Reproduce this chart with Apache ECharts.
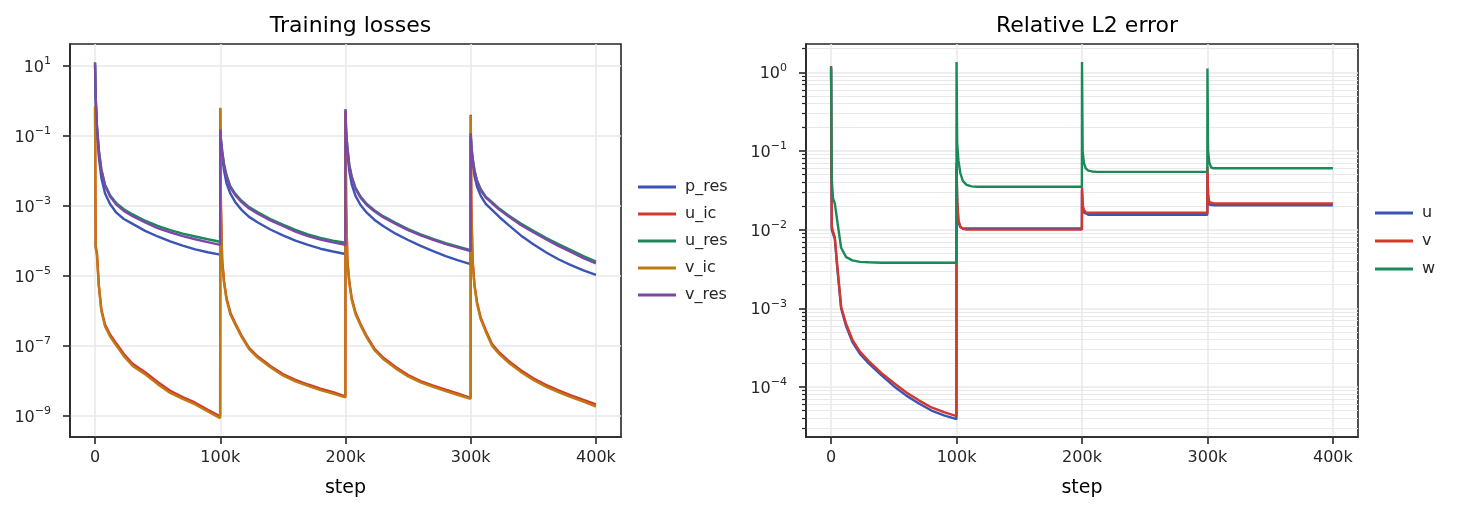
<!DOCTYPE html>
<html>
<head>
<meta charset="utf-8">
<script src="https://cdn.jsdelivr.net/npm/echarts@6/dist/echarts.min.js"></script>
<style>
  html, body { margin: 0; padding: 0; background: #fff; }
  #chart { width: 1457px; height: 512px; }
</style>
</head>
<body>
<div id="chart"></div>
<script>
// training step of every sample (4 phases of 100k steps)
const STEPS = [
  0, 500, 1500, 3000, 5000, 8000, 12000, 17000, 23000, 30000, 40000, 50000, 60000, 70000, 80000, 90000, 99900,
  100000, 100500, 101500, 103000, 105000, 108000, 112000, 117000, 123000, 130000, 140000, 150000, 160000, 170000, 180000, 190000, 199900,
  200000, 200500, 201500, 203000, 205000, 208000, 212000, 217000, 223000, 230000, 240000, 250000, 260000, 270000, 280000, 290000, 299900,
  300000, 300500, 301500, 303000, 305000, 308000, 312000, 317000, 323000, 330000, 340000, 350000, 360000, 370000, 380000, 390000, 400000,
]

// Training losses, log10 of the loss
const P_RES = [
  1.08, 0.0, -0.85, -1.6, -2.2, -2.65, -2.95, -3.2, -3.38, -3.52, -3.72, -3.88, -4.02, -4.14, -4.25, -4.33, -4.4,
  -0.85, -1.2, -1.6, -2.0, -2.36, -2.65, -2.9, -3.12, -3.32, -3.48, -3.68, -3.85, -4.0, -4.12, -4.23, -4.31, -4.38,
  -0.3, -1.0, -1.5, -2.0, -2.4, -2.72, -2.98, -3.2, -3.4, -3.58, -3.8, -3.98, -4.15, -4.3, -4.44, -4.56, -4.67,
  -1.0, -1.4, -1.8, -2.15, -2.45, -2.72, -2.95, -3.12, -3.33, -3.55, -3.85, -4.1, -4.33, -4.53, -4.7, -4.85, -4.98,
]
const U_IC = [
  -0.2, -4.15, -4.35, -5.25, -5.95, -6.4, -6.68, -6.94, -7.24, -7.52, -7.76, -8.04, -8.29, -8.47, -8.63, -8.83, -9.02,
  -0.22, -3.0, -4.55, -5.15, -5.64, -6.05, -6.36, -6.71, -7.06, -7.31, -7.58, -7.81, -7.98, -8.11, -8.23, -8.33, -8.45,
  -0.3, -3.0, -4.55, -5.15, -5.65, -6.05, -6.38, -6.73, -7.08, -7.34, -7.61, -7.84, -8.01, -8.14, -8.26, -8.37, -8.49,
  -0.4, -3.0, -4.55, -5.25, -5.75, -6.2, -6.55, -6.95, -7.2, -7.43, -7.7, -7.93, -8.12, -8.28, -8.42, -8.55, -8.68,
]
const U_RES = [
  1.0, 0.1, -0.7, -1.4, -1.95, -2.4, -2.7, -2.93, -3.1, -3.25, -3.43, -3.58, -3.7, -3.8, -3.88, -3.96, -4.03,
  -0.9, -1.1, -1.43, -1.82, -2.13, -2.44, -2.66, -2.86, -3.04, -3.19, -3.38, -3.54, -3.69, -3.82, -3.92, -4.0, -4.06,
  -0.3, -0.9, -1.33, -1.82, -2.17, -2.49, -2.74, -2.95, -3.13, -3.3, -3.49, -3.67, -3.82, -3.95, -4.07, -4.17, -4.27,
  -1.0, -1.3, -1.64, -1.98, -2.28, -2.53, -2.74, -2.9, -3.09, -3.27, -3.51, -3.72, -3.92, -4.1, -4.27, -4.44, -4.6,
]
const V_IC = [
  -0.15, -4.2, -4.4, -5.3, -6.0, -6.45, -6.74, -7.0, -7.3, -7.58, -7.82, -8.1, -8.35, -8.52, -8.68, -8.88, -9.07,
  -0.2, -3.0, -4.6, -5.2, -5.69, -6.1, -6.4, -6.75, -7.1, -7.35, -7.62, -7.85, -8.02, -8.15, -8.27, -8.37, -8.48,
  -0.35, -3.0, -4.6, -5.2, -5.7, -6.1, -6.42, -6.77, -7.12, -7.38, -7.65, -7.88, -8.05, -8.18, -8.3, -8.41, -8.52,
  -0.44, -3.0, -4.6, -5.3, -5.8, -6.25, -6.6, -7.0, -7.25, -7.48, -7.75, -7.98, -8.17, -8.33, -8.47, -8.6, -8.74,
]
const V_RES = [
  1.1, 0.1, -0.72, -1.43, -1.98, -2.43, -2.74, -2.97, -3.15, -3.3, -3.48, -3.64, -3.76, -3.87, -3.96, -4.04, -4.12,
  -0.82, -1.1, -1.45, -1.85, -2.17, -2.48, -2.7, -2.9, -3.08, -3.23, -3.42, -3.58, -3.74, -3.87, -3.97, -4.05, -4.12,
  -0.24, -0.9, -1.35, -1.85, -2.2, -2.52, -2.77, -2.98, -3.16, -3.33, -3.52, -3.7, -3.85, -3.98, -4.1, -4.2, -4.3,
  -0.93, -1.3, -1.65, -2.0, -2.3, -2.56, -2.77, -2.93, -3.12, -3.3, -3.55, -3.76, -3.96, -4.15, -4.32, -4.5, -4.65,
]

// Relative L2 error, log10
const ERR_U = [
  0.05, -2.0, -2.05, -2.12, -2.5, -3.0, -3.23, -3.43, -3.58, -3.7, -3.85, -3.99, -4.11, -4.21, -4.3, -4.36, -4.41,
  -1.2, -1.65, -1.9, -1.97, -1.985, -1.985, -1.985, -1.985, -1.985, -1.985, -1.985, -1.985, -1.985, -1.985, -1.985, -1.985, -1.985,
  -1.5, -1.72, -1.78, -1.8, -1.81, -1.81, -1.81, -1.81, -1.81, -1.81, -1.81, -1.81, -1.81, -1.81, -1.81, -1.81, -1.81,
  -1.25, -1.6, -1.68, -1.69, -1.69, -1.69, -1.69, -1.69, -1.69, -1.69, -1.69, -1.69, -1.69, -1.69, -1.69, -1.69, -1.69,
]
const ERR_V = [
  0.08, -1.95, -2.02, -2.1, -2.47, -2.98, -3.2, -3.4, -3.55, -3.67, -3.82, -3.95, -4.07, -4.17, -4.26, -4.32, -4.37,
  -1.15, -1.6, -1.88, -1.96, -1.99, -2.0, -2.0, -2.0, -2.0, -2.0, -2.0, -2.0, -2.0, -2.0, -2.0, -2.0, -2.0,
  -1.46, -1.68, -1.75, -1.78, -1.786, -1.786, -1.786, -1.786, -1.786, -1.786, -1.786, -1.786, -1.786, -1.786, -1.786, -1.786, -1.786,
  -1.2, -1.55, -1.65, -1.665, -1.667, -1.667, -1.667, -1.667, -1.667, -1.667, -1.667, -1.667, -1.667, -1.667, -1.667, -1.667, -1.667,
]
const ERR_W = [
  0.07, -1.35, -1.6, -1.67, -1.9, -2.23, -2.35, -2.39, -2.41, -2.415, -2.42, -2.42, -2.42, -2.42, -2.42, -2.42, -2.42,
  0.13, -0.9, -1.12, -1.28, -1.38, -1.43, -1.45, -1.455, -1.455, -1.455, -1.455, -1.455, -1.455, -1.455, -1.455, -1.455, -1.455,
  0.13, -1.0, -1.15, -1.22, -1.25, -1.26, -1.265, -1.265, -1.265, -1.265, -1.265, -1.265, -1.265, -1.265, -1.265, -1.265, -1.265,
  0.05, -1.0, -1.15, -1.21, -1.22, -1.22, -1.22, -1.22, -1.22, -1.22, -1.22, -1.22, -1.22, -1.22, -1.22, -1.22, -1.22,
]

const X_TICKS = [0, 100000, 200000, 300000, 400000]
const LOSS_TICKS = [-9, -7, -5, -3, -1, 1]
const ERR_TICKS = [-4, -3, -2, -1, 0]

const COLORS = { blue: '#3a55b5', red: '#d4382d', green: '#1b8a5a', orange: '#c07a14', purple: '#7d47a8' }
const FONT = 'DejaVu Sans'
const INK = '#262626'
const GRID_COLOR = '#e8e8e8'

// minor decade lines for the error panel (2..9 x 10^n)
const errMinor = []
for (let d = -5; d <= 0; d++) {
  for (let k = 2; k <= 9; k++) {
    const v = d + Math.log10(k)
    if (v > -4.636 && v < 0.36) errMinor.push(v)
  }
}

const pow10Label = (n) => '{b|10}{e|' + (n < 0 ? '\u2212' + (-n) : n) + '}'
const stepLabel = (v) => (v === 0 ? '0' : v / 1000 + 'k')

const pairs = (arr) => STEPS.map((s, i) => [s, arr[i]])

function xAxis(gridIndex) {
  return {
    type: 'value', gridIndex, min: -20000, max: 420000,
    name: 'step', nameLocation: 'middle', nameGap: 42,
    nameTextStyle: { fontFamily: FONT, fontSize: 19, color: '#000' },
    axisLine: { show: true, onZero: false, lineStyle: { color: INK, width: 1.6 } },
    axisTick: { show: true, length: 7, customValues: X_TICKS, lineStyle: { color: INK, width: 1.6 } },
    axisLabel: { customValues: X_TICKS, formatter: stepLabel, margin: 13, fontFamily: FONT, fontSize: 16, color: INK },
    splitLine: { show: true, lineStyle: { color: GRID_COLOR, width: 1.5 } },
  }
}

function logYAxis(gridIndex, min, max, ticks) {
  return {
    type: 'value', gridIndex, min, max, position: 'left',
    axisLine: { show: true, onZero: false, lineStyle: { color: INK, width: 1.6 } },
    axisTick: { show: true, length: 7, customValues: ticks, lineStyle: { color: INK, width: 1.6 } },
    axisLabel: {
      customValues: ticks, formatter: pow10Label, margin: 19,
      rich: {
        b: { fontFamily: FONT, fontSize: 16, color: INK, lineHeight: 20, verticalAlign: 'bottom' },
        e: { fontFamily: FONT, fontSize: 11, color: INK, lineHeight: 11, verticalAlign: 'top' },
      },
    },
    splitLine: { show: true, lineStyle: { color: GRID_COLOR, width: 1.5 } },
  }
}

function line(name, data, color, xi, yi) {
  return {
    name, type: 'line', data: pairs(data), xAxisIndex: xi, yAxisIndex: yi,
    showSymbol: false, symbol: 'none', color,
    lineStyle: { color, width: 2.4 },
  }
}

const chart = echarts.init(document.getElementById('chart'))
chart.setOption({
  animation: false,
  backgroundColor: '#fff',
  title: [
    { text: 'Training losses', left: 345.5, top: 10, textAlign: 'center',
      textStyle: { fontFamily: FONT, fontSize: 22, fontWeight: 'normal', color: '#000' } },
    { text: 'Relative L2 error', left: 1082, top: 10, textAlign: 'center',
      textStyle: { fontFamily: FONT, fontSize: 22, fontWeight: 'normal', color: '#000' } },
  ],
  legend: [
    {
      data: ['p_res', 'u_ic', 'u_res', 'v_ic', 'v_res'],
      orient: 'vertical', left: 633, top: 174, icon: 'rect',
      itemWidth: 38, itemHeight: 3, itemGap: 11,
      textStyle: { fontFamily: FONT, fontSize: 16, lineHeight: 16, color: INK, padding: [0, 0, 0, 4] },
    },
    {
      data: ['u', 'v', 'w'],
      orient: 'vertical', left: 1370, top: 200, icon: 'rect',
      itemWidth: 38, itemHeight: 3, itemGap: 12,
      textStyle: { fontFamily: FONT, fontSize: 16, lineHeight: 16, color: INK, padding: [0, 0, 0, 4] },
    },
  ],
  grid: [
    { left: 70, top: 44, width: 551, height: 393, show: true, borderColor: INK, borderWidth: 1.6 },
    { left: 806, top: 44, width: 552, height: 393, show: true, borderColor: INK, borderWidth: 1.6 },
  ],
  xAxis: [xAxis(0), xAxis(1)],
  yAxis: [
    logYAxis(0, -9.61, 1.62, LOSS_TICKS),
    logYAxis(1, -4.636, 0.36, ERR_TICKS),
    {
      // minor ticks / grid of the error panel
      type: 'value', gridIndex: 1, min: -4.636, max: 0.36, position: 'left',
      axisLine: { show: false, onZero: false },
      axisTick: { show: true, length: 4, customValues: errMinor, lineStyle: { color: INK, width: 1.2 } },
      axisLabel: { show: false },
      splitLine: { show: true, lineStyle: { color: GRID_COLOR, width: 1.2 } },
    },
  ],
  series: [
    line('p_res', P_RES, COLORS.blue, 0, 0),
    line('u_ic', U_IC, COLORS.red, 0, 0),
    line('u_res', U_RES, COLORS.green, 0, 0),
    line('v_ic', V_IC, COLORS.orange, 0, 0),
    line('v_res', V_RES, COLORS.purple, 0, 0),
    line('u', ERR_U, COLORS.blue, 1, 1),
    line('v', ERR_V, COLORS.red, 1, 1),
    line('w', ERR_W, COLORS.green, 1, 1),
  ],
})
</script>
</body>
</html>
